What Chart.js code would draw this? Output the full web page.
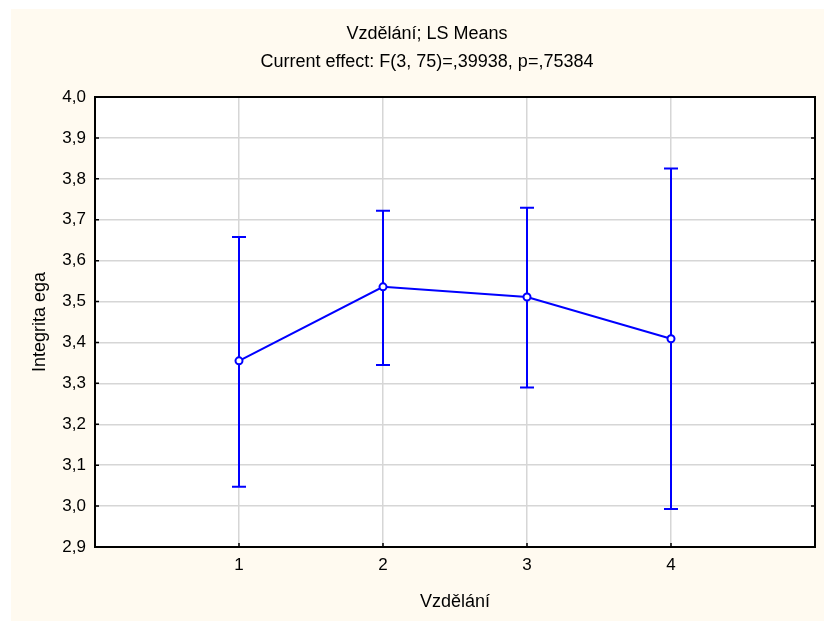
<!DOCTYPE html>
<html>
<head>
<meta charset="utf-8">
<script src="https://cdn.jsdelivr.net/npm/chart.js@4.4.1/dist/chart.umd.min.js"></script>
<style>
  body { margin: 0; background: #fff; }
</style>
</head>
<body>
<canvas id="lsChart" width="824" height="621"></canvas>
<script>
  // data
  const categories = [1, 2, 3, 4];
  const means = [3.355, 3.536, 3.511, 3.409];
  const upper = [3.658, 3.722, 3.729, 3.825];
  const lower = [3.047, 3.345, 3.290, 2.993];
  const yTicks = [2.9, 3.0, 3.1, 3.2, 3.3, 3.4, 3.5, 3.6, 3.7, 3.8, 3.9, 4.0];
  const xTicks = [1, 2, 3, 4];

  const blue = '#0000ff';
  const fontFamily = "'Liberation Sans', Arial, sans-serif";

  // beige page + white plot area + frame
  const backdrop = {
    id: 'backdrop',
    beforeDraw(chart) {
      const c = chart.ctx;
      const a = chart.chartArea;
      c.save();
      c.fillStyle = '#fffaf0';
      c.fillRect(11, 9, chart.width - 11, chart.height - 9);
      c.fillStyle = '#ffffff';
      c.fillRect(a.left, a.top, a.right - a.left, a.bottom - a.top);
      c.restore();
    },
    afterDraw(chart) {
      const c = chart.ctx;
      const a = chart.chartArea;
      const x = chart.scales.x, y = chart.scales.y;
      c.save();
      c.strokeStyle = '#000';
      c.lineWidth = 2;
      c.strokeRect(a.left, a.top, a.right - a.left, a.bottom - a.top);
      // small inward tick marks
      c.lineWidth = 1.5;
      c.beginPath();
      yTicks.forEach(v => {
        const py = y.getPixelForValue(v);
        c.moveTo(a.left, py); c.lineTo(a.left + 4, py);
        c.moveTo(a.right, py); c.lineTo(a.right - 4, py);
      });
      xTicks.forEach(v => {
        const px = x.getPixelForValue(v);
        c.moveTo(px, a.bottom); c.lineTo(px, a.bottom - 4);
      });
      c.stroke();
      c.restore();
    }
  };

  // vertical error bars with caps
  const errorBars = {
    id: 'errorBars',
    beforeDatasetsDraw(chart) {
      const c = chart.ctx;
      const x = chart.scales.x, y = chart.scales.y;
      c.save();
      c.strokeStyle = blue;
      c.lineWidth = 2;
      c.beginPath();
      categories.forEach((cat, i) => {
        const px = x.getPixelForValue(cat);
        const top = y.getPixelForValue(upper[i]);
        const bot = y.getPixelForValue(lower[i]);
        c.moveTo(px, top); c.lineTo(px, bot);
        c.moveTo(px - 7, top); c.lineTo(px + 7, top);
        c.moveTo(px - 7, bot); c.lineTo(px + 7, bot);
      });
      c.stroke();
      c.restore();
    }
  };

  const ctx = document.getElementById('lsChart');
  new Chart(ctx, {
    type: 'scatter',
    data: {
      datasets: [{
        label: 'LS Means',
        data: categories.map((c, i) => ({ x: c, y: means[i] })),
        showLine: true,
        borderColor: blue,
        borderWidth: 2,
        pointRadius: 3.5,
        pointBorderWidth: 2,
        pointBorderColor: blue,
        pointBackgroundColor: '#ffffff',
        tension: 0
      }]
    },
    options: {
      responsive: false,
      animation: false,
      devicePixelRatio: 1,
      layout: { padding: { left: 39, right: 9, top: 0, bottom: 0 } },
      plugins: {
        legend: { display: false },
        tooltip: { enabled: false },
        title: {
          display: true,
          text: 'Vzdělání; LS Means',
          color: '#000',
          font: { family: fontFamily, size: 18, weight: 'normal' },
          padding: { top: 23, bottom: 4 }
        },
        subtitle: {
          display: true,
          text: 'Current effect: F(3, 75)=,39938, p=,75384',
          color: '#000',
          font: { family: fontFamily, size: 18, weight: 'normal' },
          padding: { top: 3, bottom: 23.8 }
        }
      },
      scales: {
        x: {
          type: 'linear',
          min: 0,
          max: 5,
          afterFit(scale) { scale.height = 74; },
          afterBuildTicks(scale) { scale.ticks = xTicks.map(v => ({ value: v })); },
          ticks: {
            color: '#000',
            padding: 8,
            font: { family: fontFamily, size: 17 },
            callback: v => String(v)
          },
          grid: { color: '#d6d6d6', lineWidth: 1.5, drawTicks: false },
          border: { display: false },
          title: {
            display: true,
            text: 'Vzdělání',
            color: '#000',
            font: { family: fontFamily, size: 18 },
            padding: { top: 0, bottom: 8 }
          }
        },
        y: {
          min: 2.9,
          max: 4.0,
          afterFit(scale) { scale.width = 56; },
          afterBuildTicks(scale) { scale.ticks = yTicks.map(v => ({ value: v })); },
          ticks: {
            color: '#000',
            padding: 9,
            font: { family: fontFamily, size: 17 },
            callback: v => v.toFixed(1).replace('.', ',')
          },
          grid: { color: '#d6d6d6', lineWidth: 1.5, drawTicks: false },
          border: { display: false },
          title: {
            display: true,
            text: 'Integrita ega',
            color: '#000',
            font: { family: fontFamily, size: 18 },
            padding: { top: -9.8, bottom: 0 }
          }
        }
      }
    },
    plugins: [backdrop, errorBars]
  });
</script>
</body>
</html>
